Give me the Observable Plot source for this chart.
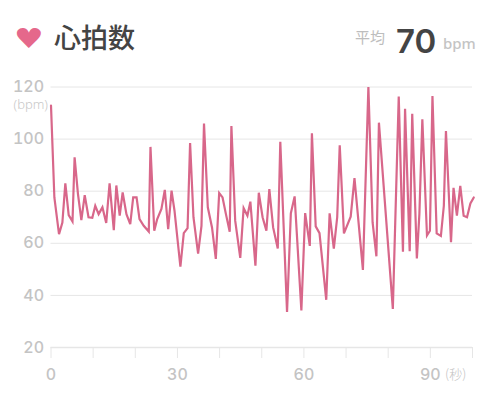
<!DOCTYPE html>
<html>
<head>
<meta charset="utf-8">
<script src="https://cdn.jsdelivr.net/npm/d3@7"></script>
<script src="https://cdn.jsdelivr.net/npm/@observablehq/plot@0.6"></script>
<style>
html,body{margin:0;padding:0;background:#fff;width:500px;height:412px;overflow:hidden}
#head{position:relative;width:500px;height:70px;color:#444;font-family:"Noto Sans CJK JP","Noto Sans",sans-serif}
#head span{position:absolute;white-space:nowrap;line-height:1}
svg{display:block}
</style>
</head>
<body>
<div id="head">
<span style="left:14px;top:22px;font:32px 'DejaVu Sans';color:#e5688b;transform:scale(1.04,.86);transform-origin:left top">♥</span>
<span style="left:54px;top:23px;font-size:27px;font-weight:500">心拍数</span>
<span style="left:355px;top:29px;font-size:15px;color:#bdbdbd">平均</span>
<span style="left:396px;top:21px;font:600 33px Inter,Roboto,sans-serif;color:#444">70</span>
<span style="left:443px;top:33px;font:500 15px 'Noto Sans',sans-serif;color:#c4c4c4">bpm</span>
</div>
<div id="chart"></div>
<script>
const seconds = [0,0.8,1.9,2.7,3.4,4.2,5.1,5.6,6.4,7.2,8,8.9,9.8,10.5,11.3,12.2,13.1,13.9,14.9,15.5,16.3,17,17.9,18.8,19.5,20.3,21,22,23.2,23.6,24.5,25.2,26.2,27,27.8,28.6,29.3,30.7,31.5,32.4,33,33.8,34.9,35.7,36.3,37.2,38.2,39.1,39.9,40.7,41.5,42.4,42.8,43.7,44.9,45.7,46.6,47.3,48.5,49.3,50.2,51.1,51.8,52.7,53.8,54.4,56,56.9,57.8,59.4,60.3,61.4,61.9,62.8,63.7,65.3,66.1,67.1,67.9,68.5,69.5,71.1,72,74,75.3,76.3,77.2,77.8,81.1,82.5,83.5,84,85.1,85.7,86.8,87.4,88.1,89.2,89.9,90.5,91.5,92.5,93.2,93.7,94.9,95.5,96.3,97.1,97.9,98.7,99.5,100.3];
const bpm = [112.9,77.6,63.5,68,83,70.8,68.4,93,78.9,68.9,78.5,70,69.8,74.4,71.2,73.8,67.8,83,65,82.2,70.6,79.5,71.2,67.4,77.6,77.6,69.3,66.7,64.5,97,64.8,69.3,73.2,80.5,65.4,80.2,72.5,51,63.9,65.8,98.5,70,56,66.7,106,73.8,66.1,54,79.3,77.6,71.2,64.4,105,68.7,54.4,73.5,70.6,76,51.4,79.4,70,64.8,80.8,66.1,58,99,33.6,71.5,78,34.2,71.6,59,102.2,66.5,63.9,38.3,71.5,58,70,97.6,63.8,70.2,85,49.8,120,68,55,106.3,34.8,116.3,56.8,111.6,57,109.7,54.2,71.3,107.6,63,64.8,116.5,63.8,62.8,74.4,103.1,60.4,81.3,70.6,82,70.6,70,75.3,77.6];
const gridValues = [20,40,60,80,100,120];
const minorTicks = [0,10,20,30,40,50,60,70,80,90,100];
const xLabels = [0,30,60,90];
const beats = seconds.map((s,i)=>({s,v:bpm[i]}));
const gray = "#c4c4c4", grid = "#e6e6e6";
const chart = Plot.plot({
  width:500,height:342,
  marginLeft:50.5,marginRight:28,marginTop:16.5,marginBottom:65,
  style:{fontFamily:"Inter,Roboto,sans-serif",background:"#fff",overflow:"visible"},
  x:{domain:[0,100]},
  y:{domain:[20,120]},
  marks:[
    Plot.ruleY(gridValues.filter(d=>d>20),{y:d=>d,stroke:grid,strokeWidth:1}),
    Plot.ruleY([20],{stroke:grid,strokeWidth:1.6}),
    Plot.axisY({ticks:gridValues,tickSize:0,tickPadding:7,fontSize:16,fontWeight:500,color:gray,label:null,anchor:"left"}),
    Plot.axisX({ticks:minorTicks,tickSize:11,tickFormat:()=>"",stroke:grid,color:grid,label:null}),
    Plot.axisX({ticks:xLabels,tickSize:0,tickPadding:21,fontSize:16,fontWeight:500,color:gray,label:null,tickFormat:d=>d}),
    Plot.text(["(bpm)"],{x:0,y:113.2,dx:-3,textAnchor:"end",fontSize:13,fill:"#c8c8c8",fontFamily:"'Noto Sans',sans-serif",fontWeight:300}),
    Plot.text(["(秒)"],{x:96,y:20,dy:27,textAnchor:"middle",fontSize:13,fill:"#c4c4c4",fontFamily:"'Noto Sans CJK JP',sans-serif",fontWeight:300}),
    Plot.line(beats,{x:"s",y:"v",stroke:"#d8678a",strokeWidth:2.2,strokeLinejoin:"miter",strokeMiterlimit:4,clip:false})
  ]
});
document.getElementById("chart").appendChild(chart);
</script>
</body>
</html>
